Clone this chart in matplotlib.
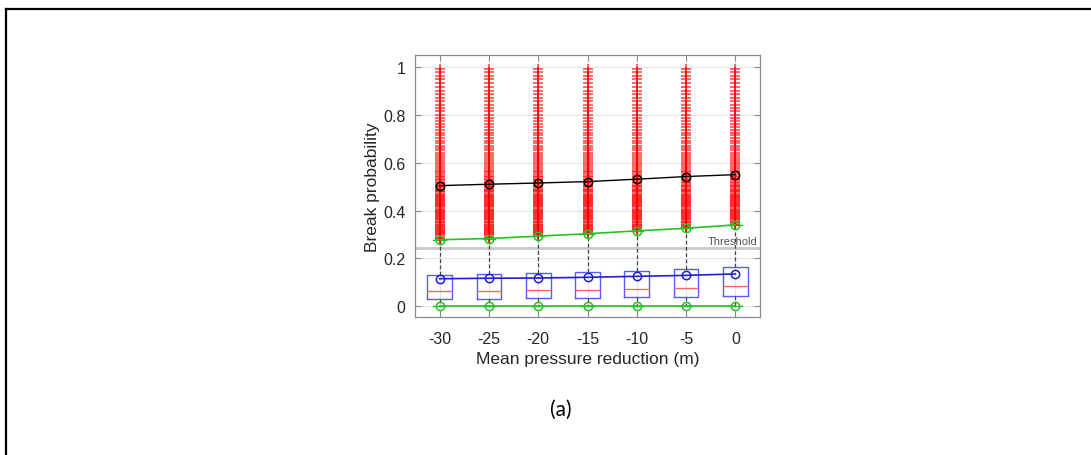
import matplotlib
matplotlib.use("Agg")
import matplotlib.pyplot as plt
from matplotlib.lines import Line2D

plt.rcParams["font.family"] = ["Liberation Sans", "DejaVu Sans"]

# data
pressure_labels = ["-30", "-25", "-20", "-15", "-10", "-5", "0"]
q1 = [0.032, 0.032, 0.033, 0.035, 0.037, 0.040, 0.042]
median = [0.064, 0.065, 0.068, 0.069, 0.074, 0.078, 0.083]
q3 = [0.131, 0.133, 0.137, 0.142, 0.149, 0.156, 0.162]
whisker_low = [0.002, 0.002, 0.002, 0.002, 0.002, 0.002, 0.002]
whisker_high = [0.278, 0.283, 0.293, 0.303, 0.315, 0.326, 0.340]
mean_all = [0.115, 0.117, 0.118, 0.121, 0.125, 0.129, 0.135]
mean_outliers = [0.504, 0.510, 0.515, 0.521, 0.531, 0.542, 0.550]
threshold = 0.243

# levels of the outlying break probabilities (shared by all columns,
# each column keeps only those above its upper whisker)
outlier_levels = [
    0.282, 0.287, 0.291, 0.296, 0.300, 0.305, 0.309, 0.314, 0.318, 0.323,
    0.327, 0.332, 0.336, 0.341, 0.345, 0.350, 0.354, 0.359, 0.363, 0.368,
    0.372, 0.377, 0.381, 0.386, 0.390, 0.395, 0.399, 0.404, 0.408, 0.413,
    0.417, 0.422, 0.426, 0.431, 0.435, 0.440, 0.444, 0.449, 0.453, 0.458,
    0.462, 0.467, 0.471, 0.476, 0.481, 0.486, 0.491, 0.497, 0.502, 0.508,
    0.514, 0.520, 0.526, 0.533, 0.539, 0.546, 0.553, 0.560, 0.567, 0.575,
    0.583, 0.591, 0.599, 0.607, 0.616, 0.624, 0.633, 0.642, 0.652, 0.661,
    0.671, 0.682, 0.692, 0.703, 0.714, 0.726, 0.738, 0.749, 0.762, 0.774,
    0.787, 0.800, 0.814, 0.828, 0.841, 0.856, 0.871, 0.885, 0.901, 0.916,
    0.932, 0.948, 0.963, 0.979, 0.993,
]

GREEN = "#22c322"
BLUE = "#1f1fd0"
GRAY_TXT = "#262626"

fig = plt.figure(figsize=(10.91, 4.56), dpi=100)
ax = fig.add_axes([0.3804, 0.3026, 0.3162, 0.5746])

positions = list(range(1, len(pressure_labels) + 1))
stats = []
for i in range(len(positions)):
    stats.append(dict(
        med=median[i], q1=q1[i], q3=q3[i],
        whislo=whisker_low[i], whishi=whisker_high[i],
        fliers=[v for v in outlier_levels if v > whisker_high[i]],
    ))

ax.axhline(threshold, color="#c8c8c8", lw=2, zorder=1)
ax.text(7.45, threshold + 0.008, "Threshold", ha="right", va="bottom",
        fontsize=8, color="#555555")

ax.bxp(stats, positions=positions, widths=0.5, showfliers=True,
       boxprops=dict(color="#5a5aff", lw=1),
       medianprops=dict(color="#ff6666", lw=1),
       whiskerprops=dict(color="#444444", lw=0.9, linestyle=(0, (3, 2))),
       capprops=dict(color=GREEN, lw=1),
       capwidths=0.25,
       flierprops=dict(marker="+", markeredgecolor="#ff0000",
                       markersize=7, markeredgewidth=1.1, alpha=0.75,
                       linestyle="none"),
       manage_ticks=False)

ax.plot(positions, mean_outliers, color="black", lw=1, marker="o",
        markersize=6, markerfacecolor="none", markeredgewidth=1.1, zorder=5)
ax.plot(positions, whisker_high, color=GREEN, lw=1.2, marker="o",
        markersize=6, markerfacecolor="none", markeredgewidth=1.1, zorder=5)
ax.plot(positions, mean_all, color=BLUE, lw=1.2, marker="o",
        markersize=6, markerfacecolor="none", markeredgewidth=1.1, zorder=5)
ax.plot(positions, whisker_low, color=GREEN, lw=1.2, marker="o",
        markersize=6, markerfacecolor="none", markeredgewidth=1.1, zorder=5)

ax.set_xlim(0.5, 7.5)
ax.set_ylim(-0.045, 1.05)
ax.set_xticks(positions)
ax.set_xticklabels(pressure_labels)
ax.set_yticks([0, 0.2, 0.4, 0.6, 0.8, 1])
ax.set_yticklabels(["0", "0.2", "0.4", "0.6", "0.8", "1"])
ax.grid(True, color="#e4e4e4", lw=0.8, zorder=0)
ax.set_axisbelow(True)
for s in ax.spines.values():
    s.set_color("#8c8c8c")
    s.set_linewidth(0.9)
ax.tick_params(direction="in", length=4, width=0.8, color="#8c8c8c",
               labelsize=11.5, labelcolor=GRAY_TXT, top=True, right=True)
ax.tick_params(axis="x", pad=10)
ax.tick_params(axis="y", pad=7)
ax.set_xlabel("Mean pressure reduction (m)", fontsize=12.5, color=GRAY_TXT,
              labelpad=4)
ax.set_ylabel("Break probability", fontsize=12.5, color=GRAY_TXT, labelpad=2)

fig.text(561 / 1091, 1 - 410 / 456, "(a)", ha="center", va="center",
         fontsize=15, family=["Lato", "DejaVu Sans"], color="black")

fig.add_artist(Line2D([5.5 / 1091, 1], [1 - 10 / 456, 1 - 10 / 456],
                      transform=fig.transFigure, color="black", lw=1.6))
fig.add_artist(Line2D([6 / 1091, 6 / 1091], [0, 1 - 10 / 456],
                      transform=fig.transFigure, color="black", lw=1.6))

fig.savefig("out.png", dpi=100)
